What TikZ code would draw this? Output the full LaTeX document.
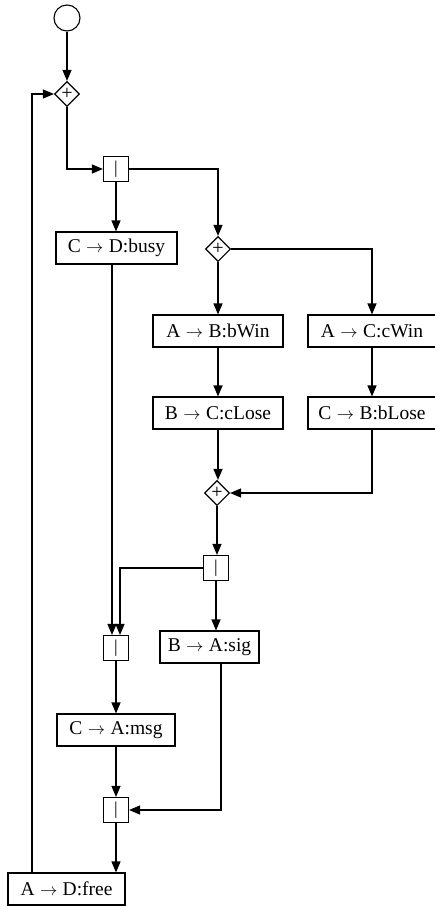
\documentclass[tikz,border=0pt]{standalone}
\usepackage{fontspec}
\setmainfont{Liberation Serif}
\usepackage{tikz}
\usetikzlibrary{shapes.geometric,arrows.meta}

\newcommand{\msgto}{\;{\fontsize{17}{18}\selectfont$\rightarrow$}\;}

\tikzset{
    act/.style={draw, rectangle, line width=1.1pt, minimum height=32pt, inner xsep=4pt,
        minimum width=#1, font=\fontsize{19.5}{20}\selectfont},
    act/.default=120pt,
    bar/.style={draw, rectangle, line width=1.1pt, minimum size=25pt, inner sep=0pt,
        font=\fontsize{18}{18}\selectfont},
    choice/.style={draw, diamond, line width=1.1pt, minimum width=25pt, minimum height=25pt,
        inner sep=0pt, font=\fontsize{20}{20}\selectfont},
    flow/.style={line width=1.1pt, -{Triangle[length=11pt,width=9pt]}}
}

\begin{document}
\begin{tikzpicture}[x=1pt, y=-1pt]
    \useasboundingbox (0,0) rectangle (435,907);

    % Start and outer loop
    \node[draw, circle, line width=1.1pt, minimum size=26pt] (start) at (67,18) {};
    \node[choice] (d1) at (67,94) {+};
    \node[bar] (bar1) at (116,169) {|};

    % Busy branch and the choice
    \node[act=121pt] (busy) at (116.5,248) {C\msgto D:busy};
    \node[choice] (d2) at (218,249) {+};
    \node[act=130pt] (bwin) at (218,331) {A\msgto B:bWin};
    \node[act=128pt] (cwin) at (372,331) {A\msgto C:cWin};
    \node[act=130pt] (close) at (218,413) {B\msgto C:cLose};
    \node[act=128pt] (blose) at (372,413) {C\msgto B:bLose};
    \node[choice] (d3) at (217,493) {+};
    \node[bar] (bar2) at (216,568) {|};

    % Joins
    \node[bar] (join1) at (116,648) {|};
    \node[act=99pt] (sig) at (209.5,647) {B\msgto A:sig};
    \node[act=118pt] (msg) at (116,730) {C\msgto A:msg};
    \node[bar] (join2) at (116,810) {|};
    \node[act=117pt] (free) at (66.5,889) {A\msgto D:free};

    % Connectors
    \draw[flow] (start) -- (d1);
    \draw[flow] ([xshift=-34.5pt]free.north) |- (d1.west);
    \draw[flow] (d1.south) |- (bar1.west);
    \draw[flow] (bar1.south) -- (bar1.south |- busy.north);
    \draw[flow] (bar1.east) -| (d2.north);
    \draw[flow] (d2.south) -- (bwin.north);
    \draw[flow] (d2.east) -| (cwin.north);
    \draw[flow] (bwin) -- (close);
    \draw[flow] (cwin) -- (blose);
    \draw[flow] (close.south) -- (close.south |- d3.north);
    \draw[flow] (blose.south) |- (d3.east);
    \draw[flow] (d3.south) -- (d3.south |- bar2.north);
    \draw[flow] (bar2.west) -| ([xshift=4pt]join1.north);
    \draw[flow] ([xshift=-4.5pt]busy.south) -- ([xshift=-4pt]join1.north);
    \draw[flow] (bar2.south) -- (bar2.south |- sig.north);
    \draw[flow] (join1) -- (msg);
    \draw[flow] (msg.south) -- (join2.north);
    \draw[flow] ([xshift=11.5pt]sig.south) |- (join2.east);
    \draw[flow] (join2.south) -- (join2.south |- free.north);
\end{tikzpicture}
\end{document}
